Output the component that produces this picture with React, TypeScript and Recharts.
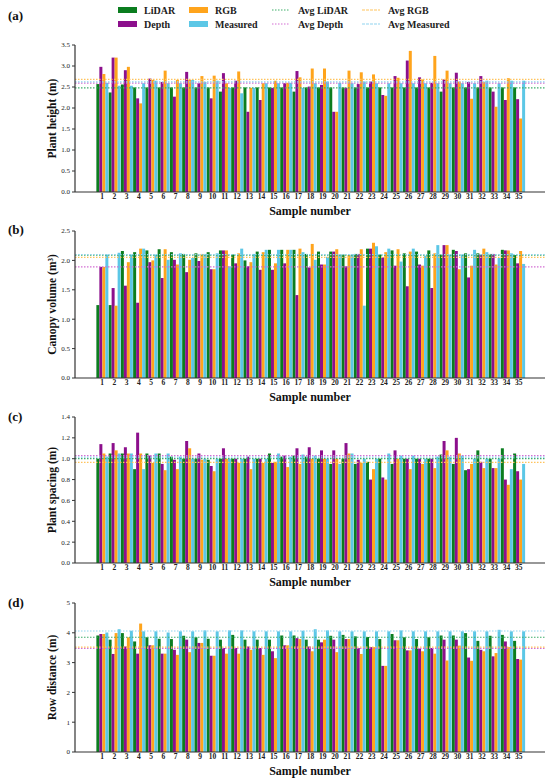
import React from 'react';
import { BarChart, Bar, XAxis, YAxis, ReferenceLine, Label } from 'recharts';

const FONT = "'Liberation Serif', 'DejaVu Serif', serif";

const samples = ['1','2','3','4','5','6','7','8','9','10','11','12','13','14','15','16','17','18','19','20','21','22','23','24','25','26','27','28','29','30','31','32','33','34','35'];

const seriesNames = ['LiDAR', 'Depth', 'RGB', 'Measured'];
const avgNames = ['Avg LiDAR', 'Avg Depth', 'Avg RGB', 'Avg Measured'];

// (a) Plant height (m)
const heightLidar = [2.57,2.37,2.56,2.49,2.49,2.49,2.49,2.49,2.49,2.49,2.39,2.49,2.49,2.49,2.49,2.49,2.39,2.49,2.49,2.49,2.49,2.49,2.49,2.49,2.49,2.49,2.49,2.49,2.39,2.49,2.49,2.49,2.49,2.49,2.49];
const heightDepth = [2.98,3.2,2.9,2.23,2.7,2.62,2.27,2.86,2.59,2.23,2.83,2.65,1.91,2.19,2.48,2.59,2.88,2.51,2.55,1.91,2.48,2.57,2.63,2.31,2.76,3.13,2.73,2.6,2.68,2.84,2.62,2.76,2.39,2.19,2.21];
const heightRgb = [2.81,3.2,2.98,2.11,2.67,2.89,2.67,2.67,2.76,2.77,2.59,2.87,2.48,2.59,2.65,2.6,2.73,2.94,2.94,1.91,2.89,2.85,2.8,2.29,2.72,3.36,2.68,3.24,2.89,2.63,2.22,2.62,2.03,2.71,1.75];
const heightMeasured = [2.6,2.53,2.53,2.59,2.65,2.59,2.59,2.67,2.62,2.65,2.48,2.35,2.48,2.59,2.59,2.6,2.48,2.59,2.63,2.6,2.59,2.63,2.59,2.59,2.59,2.59,2.59,2.59,2.59,2.59,2.59,2.65,2.59,2.65,2.65];
const heightAvgs = [2.48, 2.59, 2.68, 2.62];
const heightTicks = [0, 0.5, 1.0, 1.5, 2.0, 2.5, 3.0, 3.5];

// (b) Canopy volume (m³)
const volumeLidar = [1.24,1.24,2.16,2.14,2.17,2.19,2.14,2.11,2.12,2.14,2.17,2.1,2.0,2.15,2.18,2.18,2.18,2.11,2.15,2.15,2.1,2.11,2.2,2.1,2.17,2.12,2.15,2.17,2.1,2.18,2.12,2.12,2.11,2.18,2.09];
const volumeDepth = [1.89,1.53,1.57,1.28,1.97,1.7,2.01,1.8,1.99,1.85,2.17,1.95,1.9,1.84,1.84,1.95,1.41,1.88,1.93,2.15,1.9,2.11,2.2,2.05,1.91,1.56,1.93,1.53,2.26,2.16,1.71,2.1,2.11,2.17,1.95];
const volumeRgb = [1.89,1.23,1.97,2.2,2.0,2.19,1.93,2.01,2.11,1.85,2.17,2.12,1.97,2.14,1.95,2.18,2.2,2.28,1.93,2.19,2.09,2.19,2.3,2.14,2.19,2.15,1.91,2.12,2.26,1.85,1.91,2.2,1.93,2.17,2.16];
const volumeMeasured = [2.1,2.13,2.1,2.2,2.1,2.01,2.12,2.04,2.11,2.12,1.9,2.2,2.11,2.18,2.18,2.18,2.14,2.01,2.06,2.1,2.1,1.23,2.24,2.2,1.98,2.2,2.08,2.26,2.1,2.1,2.18,2.14,2.04,2.12,1.94];
const volumeAvgs = [2.09, 1.89, 2.05, 2.1];
const volumeTicks = [0, 0.5, 1.0, 1.5, 2.0, 2.5];

// (c) Plant spacing (m)
const spacingLidar = [1.0,1.05,1.05,0.9,1.05,1.05,1.02,1.0,1.0,0.99,1.0,1.0,1.0,1.0,1.05,1.02,1.03,1.02,1.0,0.95,1.0,0.95,0.97,1.0,0.95,1.0,1.0,1.0,1.04,0.95,0.89,1.08,1.0,1.1,1.05];
const spacingDepth = [1.14,1.15,1.11,1.25,1.03,0.95,0.99,1.17,1.05,0.93,1.1,1.0,1.02,1.0,0.96,1.03,1.1,1.11,1.08,1.08,1.15,0.99,0.8,0.82,1.08,1.0,1.0,1.0,1.17,1.2,0.9,0.97,0.91,0.8,0.88];
const spacingRgb = [1.05,1.08,1.05,1.05,0.96,0.89,0.9,1.1,0.99,0.88,1.0,0.96,0.9,0.96,0.97,0.92,0.95,1.0,1.0,1.0,1.05,0.96,0.9,0.8,1.0,0.9,0.95,0.91,1.08,1.05,0.95,0.91,0.91,0.75,0.8];
const spacingMeasured = [1.02,1.05,1.05,0.9,1.05,1.05,1.02,1.0,1.0,1.0,1.0,1.0,1.0,1.0,1.05,1.02,1.04,1.03,1.0,0.95,1.05,1.0,1.0,1.05,1.03,1.03,1.0,1.02,1.02,1.03,1.0,1.0,1.0,0.9,0.95];
const spacingAvgs = [1.0, 1.03, 0.965, 1.015];
const spacingTicks = [0, 0.2, 0.4, 0.6, 0.8, 1.0, 1.2, 1.4];

// (d) Row distance (m)
const rowLidar = [3.91,3.77,3.99,3.71,3.85,3.8,3.79,3.9,3.85,3.8,3.77,3.93,3.77,3.77,3.77,3.91,3.91,3.77,3.77,3.9,3.93,3.88,3.86,3.79,3.96,3.85,3.79,3.85,3.91,3.91,3.99,3.73,3.9,3.93,3.73];
const rowDepth = [3.96,3.29,3.54,3.3,3.58,3.3,3.43,3.77,3.66,3.23,3.49,3.49,3.54,3.49,3.38,3.58,3.82,3.54,3.68,3.77,3.79,3.49,3.52,2.89,3.75,3.41,3.47,3.49,3.77,3.77,3.17,3.43,3.21,3.71,3.12];
const rowRgb = [3.96,3.99,3.85,4.31,3.58,3.3,3.26,3.35,3.66,3.23,3.3,3.3,3.43,3.26,3.15,3.58,3.79,3.38,3.77,3.35,3.79,3.29,3.52,2.89,3.75,3.41,3.38,3.3,3.07,3.57,3.06,3.38,3.32,3.52,3.1];
const rowMeasured = [4.01,4.12,4.07,4.05,4.05,4.01,4.05,4.05,4.08,4.05,4.08,4.08,4.05,4.05,4.05,4.05,4.07,4.12,4.08,4.05,4.05,4.05,4.05,4.05,4.08,4.05,4.05,4.05,4.05,4.05,4.05,4.05,4.1,4.05,4.05];
const rowAvgs = [3.85, 3.48, 3.52, 4.06];
const rowTicks = [0, 1, 2, 3, 4, 5];

const barColors = ['#0b7d1f', '#8c0f8c', '#ffa41c', '#5cc7e6'];
const avgColors = ['#3fae6a', '#d36fd3', '#ffc35c', '#8fd3f0'];
const keys = ['lidar', 'depth', 'rgb', 'measured'];

type PanelProps = {
  top: number;
  h: number;
  series: number[][];
  avgs: number[];
  ticks: number[];
  yLabel: string;
  decimals: number;
};

function Panel({ top, h, series, avgs, ticks, yLabel, decimals }: PanelProps) {
  const data = samples.map((s, i) => ({
    s,
    lidar: series[0][i],
    depth: series[1][i],
    rgb: series[2][i],
    measured: series[3][i],
  }));
  const mt = 10;
  return (
    <div style={{ position: 'absolute', left: 0, top: top - mt }}>
      <BarChart
        width={550}
        height={h + mt + 30}
        data={data}
        margin={{ top: mt, right: 5, bottom: 0, left: 0 }}
        barCategoryGap="3%"
        barGap={0}
      >
        <XAxis
          dataKey="s"
          interval={0}
          height={30}
          padding={{ left: 21, right: 20 }}
          tickLine={false}
          tickSize={1}
          tickMargin={1}
          axisLine={{ stroke: '#333', strokeWidth: 1.2 }}
          tick={{ fontSize: 7.5, fontWeight: 'bold', fill: '#222', fontFamily: FONT }}
        >
          <Label
            content={() => (
              <text
                x={310}
                y={mt + h + 19}
                textAnchor="middle"
                dominantBaseline="central"
                fontFamily={FONT}
                fontWeight="bold"
                fontSize={12}
                fill="#111"
              >
                Sample number
              </text>
            )}
          />
        </XAxis>
        <XAxis
          xAxisId="top"
          orientation="top"
          dataKey="s"
          height={0}
          tick={false}
          tickLine={false}
          axisLine={{ stroke: '#555', strokeWidth: 1.2 }}
        />
        <YAxis
          width={75}
          domain={[0, ticks[ticks.length - 1]]}
          ticks={ticks}
          interval={0}
          tickSize={3}
          tickMargin={2}
          tickFormatter={(v: number) => v.toFixed(decimals)}
          axisLine={{ stroke: '#333', strokeWidth: 1.2 }}
          tickLine={{ stroke: '#333' }}
          tick={{ fontSize: 7, fill: '#222', fontFamily: FONT }}
        >
          <Label
            content={() => (
              <text
                x={52}
                y={mt + h / 2}
                transform={`rotate(-90, 52, ${mt + h / 2})`}
                textAnchor="middle"
                dominantBaseline="central"
                fontFamily={FONT}
                fontWeight="bold"
                fontSize={11.5}
                fill="#111"
              >
                {yLabel}
              </text>
            )}
          />
        </YAxis>
        <YAxis
          yAxisId="right"
          orientation="right"
          width={0}
          domain={[0, 1]}
          tick={false}
          tickLine={false}
          axisLine={{ stroke: '#555', strokeWidth: 1.2 }}
        />
        {keys.map((k, i) => (
          <Bar key={k} dataKey={k} name={seriesNames[i]} fill={barColors[i]} isAnimationActive={false} />
        ))}
        {avgs.map((a, i) => (
          <ReferenceLine
            key={avgNames[i]}
            y={a}
            stroke={avgColors[i]}
            strokeWidth={1.2}
            strokeDasharray="1.5 1.5"
          />
        ))}
      </BarChart>
    </div>
  );
}

function LegendOverlay() {
  const cols = [118, 189, 272, 362];
  const rows = [10, 24];
  const items = [
    { col: 0, row: 0, type: 'bar', color: barColors[0], label: seriesNames[0] },
    { col: 0, row: 1, type: 'bar', color: barColors[1], label: seriesNames[1] },
    { col: 1, row: 0, type: 'bar', color: barColors[2], label: seriesNames[2] },
    { col: 1, row: 1, type: 'bar', color: barColors[3], label: seriesNames[3] },
    { col: 2, row: 0, type: 'line', color: avgColors[0], label: avgNames[0] },
    { col: 2, row: 1, type: 'line', color: avgColors[1], label: avgNames[1] },
    { col: 3, row: 0, type: 'line', color: avgColors[2], label: avgNames[2] },
    { col: 3, row: 1, type: 'line', color: avgColors[3], label: avgNames[3] },
  ];
  const panelLabels = [
    { t: '(a)', y: 15 },
    { t: '(b)', y: 229 },
    { t: '(c)', y: 416 },
    { t: '(d)', y: 602 },
  ];
  return (
    <svg width={550} height={779} style={{ position: 'absolute', left: 0, top: 0, pointerEvents: 'none' }}>
      {items.map((it) => {
        const x = cols[it.col];
        const y = rows[it.row];
        return (
          <g key={it.label}>
            {it.type === 'bar' ? (
              <rect x={x} y={y - 3} width={19} height={6} fill={it.color} />
            ) : (
              <line x1={x} x2={x + 18} y1={y} y2={y} stroke={it.color} strokeWidth={1.2} strokeDasharray={it.col === 2 ? '1.5 1.5' : '3 1'} />
            )}
            <text x={x + 26} y={y} dominantBaseline="central" fontFamily={FONT} fontWeight="bold" fontSize={10} fill="#222">
              {it.label}
            </text>
          </g>
        );
      })}
      {panelLabels.map((p) => (
        <text key={p.t} x={8} y={p.y} dominantBaseline="central" fontFamily={FONT} fontWeight="bold" fontSize={13} fill="#111">
          {p.t}
        </text>
      ))}
    </svg>
  );
}

export default function App() {
  return (
    <div style={{ position: 'absolute', left: 0, top: 0, width: 550, height: 779, background: '#fff', overflow: 'hidden' }}>
      <Panel top={45} h={147} series={[heightLidar, heightDepth, heightRgb, heightMeasured]} avgs={heightAvgs} ticks={heightTicks} yLabel="Plant height (m)" decimals={1} />
      <Panel top={231} h={147} series={[volumeLidar, volumeDepth, volumeRgb, volumeMeasured]} avgs={volumeAvgs} ticks={volumeTicks} yLabel="Canopy volume (m³)" decimals={1} />
      <Panel top={417} h={146} series={[spacingLidar, spacingDepth, spacingRgb, spacingMeasured]} avgs={spacingAvgs} ticks={spacingTicks} yLabel="Plant spacing (m)" decimals={1} />
      <Panel top={603} h={149} series={[rowLidar, rowDepth, rowRgb, rowMeasured]} avgs={rowAvgs} ticks={rowTicks} yLabel="Row distance (m)" decimals={0} />
      <LegendOverlay />
    </div>
  );
}
